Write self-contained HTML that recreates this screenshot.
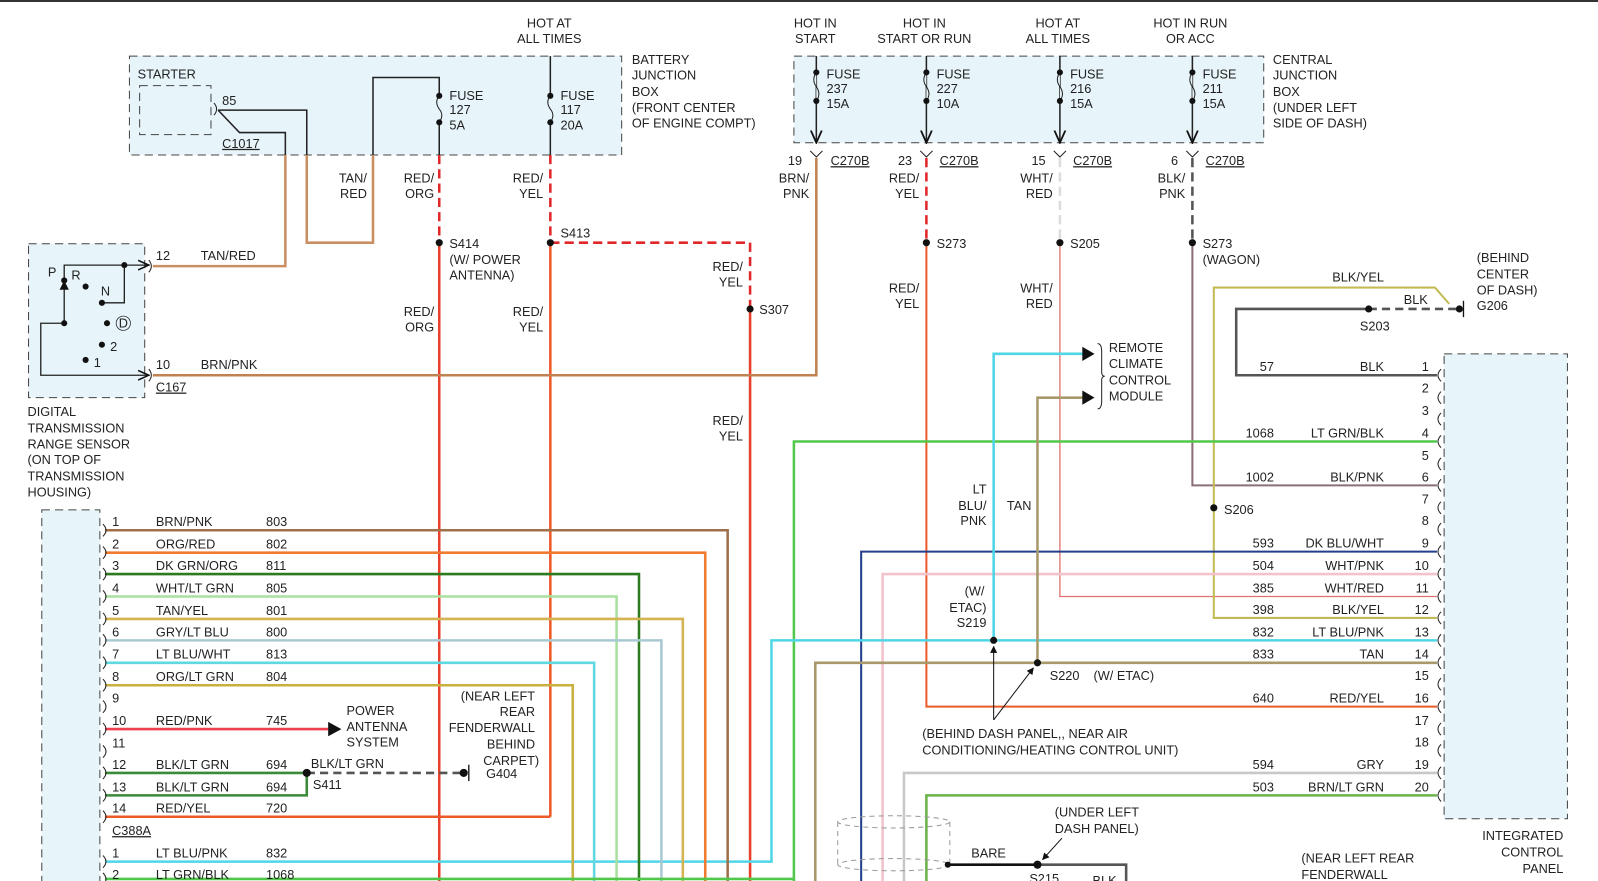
<!DOCTYPE html>
<html><head><meta charset="utf-8"><style>
html,body{margin:0;padding:0;background:#fff;}
svg{display:block;}
text{font-family:"Liberation Sans",Arial,sans-serif;font-size:12.5px;fill:#222;}
.r{text-anchor:end}.m{text-anchor:middle}
.u{text-decoration:underline}
</style></head><body>
<svg width="1598" height="881" viewBox="0 0 1568 864" preserveAspectRatio="none" xmlns="http://www.w3.org/2000/svg">
<defs>
<marker id="ah" viewBox="0 0 10 10" refX="9" refY="5" markerWidth="7" markerHeight="7" orient="auto"><path d="M0,0L10,5L0,10z" fill="#111"/></marker>
<marker id="av" viewBox="0 0 10 10" refX="9" refY="5" markerWidth="9" markerHeight="9" orient="auto"><path d="M0,1L9,5L0,9" fill="none" stroke="#111" stroke-width="1.3"/></marker>
</defs>
<line x1="0" y1="1" x2="1568" y2="1" stroke="#333" stroke-width="2"/>

<rect x="127" y="55" width="483" height="97" fill="#e7f4fa" stroke="#444" stroke-dasharray="8,5"/>
<rect x="137" y="84" width="70" height="48" fill="#e7f4fa" stroke="#444" stroke-dasharray="8,5"/>
<rect x="779" y="55" width="461" height="85" fill="#e7f4fa" stroke="#444" stroke-dasharray="8,5"/>
<rect x="28" y="239" width="114" height="151" fill="#e7f4fa" stroke="#444" stroke-dasharray="8,5"/>
<rect x="41" y="500" width="57" height="380" fill="#e7f4fa" stroke="#444" stroke-dasharray="8,5"/>
<rect x="1417" y="347" width="121" height="456" fill="#e7f4fa" stroke="#444" stroke-dasharray="8,5"/>

<text x="135" y="77">STARTER</text>
<text x="218" y="103">85</text>
<text x="218" y="145" class="u">C1017</text>
<text x="539" y="27" class="m">HOT AT</text><text x="539" y="42" class="m">ALL TIMES</text>
<text x="620" y="63">BATTERY</text><text x="620" y="78">JUNCTION</text><text x="620" y="94">BOX</text><text x="620" y="110">(FRONT CENTER</text><text x="620" y="125">OF ENGINE COMPT)</text>
<path d="M210,101 q5,6 0,12" fill="none" stroke="#222"/>
<polyline points="214,108 301,108 301,152" fill="none" stroke="#222" stroke-width="1.5"/>
<polyline points="301,152 301,238 366,238 366,152" fill="none" stroke="#c98f62" stroke-width="2.5"/>
<polyline points="366,152 366,76 431,76 431,94" fill="none" stroke="#222" stroke-width="1.5"/>
<polyline points="214,108 235,130 280,130 280,152" fill="none" stroke="#222" stroke-width="1.5"/>
<polyline points="280,152 280,261 150,261" fill="none" stroke="#c98f62" stroke-width="2.5"/>
<text x="360" y="179" class="r">TAN/</text><text x="360" y="194" class="r">RED</text>
<line x1="431" y1="120" x2="431" y2="152" stroke="#222" stroke-width="1.5"/>
<path d="M431,94 q-5,6 0,13 q5,6 0,13" fill="none" stroke="#222"/>
<circle cx="431" cy="94" r="3" fill="#111"/><circle cx="431" cy="120" r="3" fill="#111"/>
<text x="441" y="98">FUSE</text><text x="441" y="112">127</text><text x="441" y="127">5A</text>
<line x1="431" y1="152" x2="431" y2="238" stroke="#e0282a" stroke-width="2.5" stroke-dasharray="9,5"/>
<line x1="431" y1="238" x2="431" y2="864" stroke="#e8402a" stroke-width="2.5"/>
<circle cx="431" cy="238" r="3.5" fill="#111"/>
<text x="426" y="179" class="r">RED/</text><text x="426" y="194" class="r">ORG</text>
<text x="441" y="243">S414</text><text x="441" y="259">(W/ POWER</text><text x="441" y="274">ANTENNA)</text>
<text x="426" y="310" class="r">RED/</text><text x="426" y="325" class="r">ORG</text>
<line x1="540" y1="55" x2="540" y2="94" stroke="#222" stroke-width="1.5"/>
<line x1="540" y1="120" x2="540" y2="152" stroke="#222" stroke-width="1.5"/>
<path d="M540,94 q-5,6 0,13 q5,6 0,13" fill="none" stroke="#222"/>
<circle cx="540" cy="94" r="3" fill="#111"/><circle cx="540" cy="120" r="3" fill="#111"/>
<text x="550" y="98">FUSE</text><text x="550" y="112">117</text><text x="550" y="127">20A</text>
<line x1="540" y1="152" x2="540" y2="238" stroke="#e0282a" stroke-width="2.5" stroke-dasharray="9,5"/>
<polyline points="540,238 736,238 736,303" fill="none" stroke="#e0282a" stroke-width="2.5" stroke-dasharray="9,5"/>
<line x1="540" y1="238" x2="540" y2="801" stroke="#ec5a28" stroke-width="2.5"/>
<line x1="736" y1="303" x2="736" y2="864" stroke="#e8402a" stroke-width="2.5"/>
<circle cx="540" cy="238" r="3.5" fill="#111"/><circle cx="736" cy="303" r="3.5" fill="#111"/>
<text x="533" y="179" class="r">RED/</text><text x="533" y="194" class="r">YEL</text>
<text x="550" y="233">S413</text>
<text x="533" y="310" class="r">RED/</text><text x="533" y="325" class="r">YEL</text>
<text x="729" y="266" class="r">RED/</text><text x="729" y="281" class="r">YEL</text>
<text x="745" y="308">S307</text>
<text x="729" y="417" class="r">RED/</text><text x="729" y="432" class="r">YEL</text>

<path d="M146,255 q5,6 0,12 M146,362 q5,6 0,12" fill="none" stroke="#222"/>
<polyline points="63,275 63,260 146,260" fill="none" stroke="#222" stroke-width="1.3" marker-end="url(#av)"/>
<line x1="63" y1="317" x2="63" y2="276" stroke="#222" stroke-width="1.3" marker-end="url(#ah)"/>
<polyline points="122,260 122,297 100,297" fill="none" stroke="#222" stroke-width="1.3"/>
<polyline points="63,317 40,317 40,368 146,368" fill="none" stroke="#222" stroke-width="1.3" marker-end="url(#av)"/>
<circle cx="122" cy="260" r="3" fill="#111"/><circle cx="63" cy="275" r="3" fill="#111"/><circle cx="84" cy="281" r="3" fill="#111"/>
<circle cx="100" cy="297" r="3" fill="#111"/><circle cx="63" cy="317" r="3" fill="#111"/><circle cx="105" cy="317" r="3" fill="#111"/>
<circle cx="100" cy="338" r="3" fill="#111"/><circle cx="84" cy="353" r="3" fill="#111"/>
<text x="47" y="271">P</text><text x="70" y="274">R</text><text x="99" y="290">N</text>
<circle cx="121" cy="317" r="7" fill="none" stroke="#333" stroke-width="0.8"/><text x="121" y="321" class="m">D</text>
<text x="108" y="344">2</text><text x="92" y="360">1</text>
<text x="153" y="255">12</text><text x="197" y="255">TAN/RED</text>
<text x="153" y="362">10</text><text x="197" y="362">BRN/PNK</text>
<text x="153" y="384" class="u">C167</text>
<polyline points="150,368 801,368 801,155" fill="none" stroke="#c08250" stroke-width="2.5"/>
<text x="27" y="408">DIGITAL</text><text x="27" y="424">TRANSMISSION</text><text x="27" y="440">RANGE SENSOR</text><text x="27" y="455">(ON TOP OF</text><text x="27" y="471">TRANSMISSION</text><text x="27" y="487">HOUSING)</text>

<text x="800" y="27" class="m">HOT IN</text><text x="800" y="42" class="m">START</text>
<text x="907" y="27" class="m">HOT IN</text><text x="907" y="42" class="m">START OR RUN</text>
<text x="1038" y="27" class="m">HOT AT</text><text x="1038" y="42" class="m">ALL TIMES</text>
<text x="1168" y="27" class="m">HOT IN RUN</text><text x="1168" y="42" class="m">OR ACC</text>
<text x="1249" y="63">CENTRAL</text><text x="1249" y="78">JUNCTION</text><text x="1249" y="94">BOX</text><text x="1249" y="110">(UNDER LEFT</text><text x="1249" y="125">SIDE OF DASH)</text>
<g stroke="#222" stroke-width="1.5" fill="none">
<line x1="801" y1="55" x2="801" y2="140" marker-end="url(#av)"/>
<line x1="909" y1="55" x2="909" y2="140" marker-end="url(#av)"/>
<line x1="1040" y1="55" x2="1040" y2="140" marker-end="url(#av)"/>
<line x1="1170" y1="55" x2="1170" y2="140" marker-end="url(#av)"/>
</g>
<g fill="#e7f4fa" stroke="#222" stroke-width="1">
<path d="M801,71 q-5,7 0,14 q5,7 0,14"/><path d="M909,71 q-5,7 0,14 q5,7 0,14"/><path d="M1040,71 q-5,7 0,14 q5,7 0,14"/><path d="M1170,71 q-5,7 0,14 q5,7 0,14"/>
</g>
<g fill="#111"><circle cx="801" cy="71" r="3"/><circle cx="801" cy="99" r="3"/><circle cx="909" cy="71" r="3"/><circle cx="909" cy="99" r="3"/><circle cx="1040" cy="71" r="3"/><circle cx="1040" cy="99" r="3"/><circle cx="1170" cy="71" r="3"/><circle cx="1170" cy="99" r="3"/></g>
<text x="811" y="77">FUSE</text><text x="811" y="91">237</text><text x="811" y="106">15A</text>
<text x="919" y="77">FUSE</text><text x="919" y="91">227</text><text x="919" y="106">10A</text>
<text x="1050" y="77">FUSE</text><text x="1050" y="91">216</text><text x="1050" y="106">15A</text>
<text x="1180" y="77">FUSE</text><text x="1180" y="91">211</text><text x="1180" y="106">15A</text>
<path d="M795,148 l6,6 l6,-6 M903,148 l6,6 l6,-6 M1034,148 l6,6 l6,-6 M1164,148 l6,6 l6,-6" fill="none" stroke="#222"/>
<text x="787" y="162" class="r">19</text><text x="815" y="162" class="u">C270B</text>
<text x="895" y="162" class="r">23</text><text x="922" y="162" class="u">C270B</text>
<text x="1026" y="162" class="r">15</text><text x="1053" y="162" class="u">C270B</text>
<text x="1156" y="162" class="r">6</text><text x="1183" y="162" class="u">C270B</text>
<text x="794" y="179" class="r">BRN/</text><text x="794" y="194" class="r">PNK</text>
<line x1="909" y1="155" x2="909" y2="238" stroke="#e0282a" stroke-width="2.5" stroke-dasharray="9,5"/>
<line x1="1040" y1="155" x2="1040" y2="238" stroke="#dcdcdc" stroke-width="2.5" stroke-dasharray="9,5"/>
<line x1="1170" y1="155" x2="1170" y2="238" stroke="#555" stroke-width="2.5" stroke-dasharray="9,5"/>
<text x="902" y="179" class="r">RED/</text><text x="902" y="194" class="r">YEL</text>
<text x="1033" y="179" class="r">WHT/</text><text x="1033" y="194" class="r">RED</text>
<text x="1163" y="179" class="r">BLK/</text><text x="1163" y="194" class="r">PNK</text>
<text x="919" y="243">S273</text><text x="1050" y="243">S205</text><text x="1180" y="243">S273</text><text x="1180" y="259">(WAGON)</text>
<text x="902" y="287" class="r">RED/</text><text x="902" y="302" class="r">YEL</text>
<text x="1033" y="287" class="r">WHT/</text><text x="1033" y="302" class="r">RED</text>

<polyline points="909,238 909,693 1410,693" fill="none" stroke="#ec5a28" stroke-width="2"/>
<polyline points="1040,238 1040,585 1410,585" fill="none" stroke="#e07070" stroke-width="1.3"/>
<polyline points="1170,238 1170,476 1410,476" fill="none" stroke="#8a6f7a" stroke-width="2"/>
<circle cx="909" cy="238" r="3.5" fill="#111"/><circle cx="1040" cy="238" r="3.5" fill="#111"/><circle cx="1170" cy="238" r="3.5" fill="#111"/>
<polyline points="1410,368 1213,368 1213,303 1343,303" fill="none" stroke="#555" stroke-width="2.5"/>
<line x1="1343" y1="303" x2="1432" y2="303" stroke="#555" stroke-width="2.5" stroke-dasharray="8,5"/>
<circle cx="1343" cy="303" r="3.5" fill="#111"/><circle cx="1432" cy="303" r="3.5" fill="#111"/>
<line x1="1436" y1="295" x2="1436" y2="311" stroke="#111" stroke-width="1.3"/>
<polyline points="1410,606 1191,606 1191,282 1408,282 1422,298" fill="none" stroke="#c2bb55" stroke-width="2"/>
<circle cx="1191" cy="498" r="3.5" fill="#111"/>
<text x="1201" y="504">S206</text>
<text x="1358" y="276" class="r">BLK/YEL</text><text x="1401" y="298" class="r">BLK</text><text x="1349" y="324" class="m">S203</text>
<text x="1449" y="257">(BEHIND</text><text x="1449" y="273">CENTER</text><text x="1449" y="289">OF DASH)</text><text x="1449" y="304">G206</text>
<polyline points="1410,433 779,433 779,864" fill="none" stroke="#52c84a" stroke-width="2.5"/>
<polyline points="1410,541 845,541 845,864" fill="none" stroke="#233f8c" stroke-width="2"/>
<polyline points="1410,563 866,563 866,864" fill="none" stroke="#f3c3cb" stroke-width="2.5"/>
<polyline points="1410,628 757,628 757,845 103,845" fill="none" stroke="#4fd6e6" stroke-width="2.5"/>
<polyline points="1410,650 800,650 800,864" fill="none" stroke="#a8986a" stroke-width="2.5"/>
<polyline points="1410,758 887,758 887,864" fill="none" stroke="#c8c8c8" stroke-width="2.5"/>
<polyline points="1410,780 909,780 909,864" fill="none" stroke="#6cb24a" stroke-width="2.5"/>
<polyline points="975,628 975,347 1064,347" fill="none" stroke="#4fd6e6" stroke-width="2.5"/>
<polyline points="1018,650 1018,390 1064,390" fill="none" stroke="#a8986a" stroke-width="2.5"/>
<path d="M1062,340 L1074,347 L1062,354z M1062,383 L1074,390 L1062,397z" fill="#111"/>
<path d="M1077,337 q4,0 4,8 v20 q0,4 3,4 q-3,0 -3,4 v20 q0,8 -4,8" fill="none" stroke="#222"/>
<text x="1088" y="345">REMOTE</text><text x="1088" y="361">CLIMATE</text><text x="1088" y="377">CONTROL</text><text x="1088" y="393">MODULE</text>
<circle cx="975" cy="628" r="3.5" fill="#111"/><circle cx="1018" cy="650" r="3.5" fill="#111"/>
<text x="968" y="484" class="r">LT</text><text x="968" y="500" class="r">BLU/</text><text x="968" y="515" class="r">PNK</text><text x="988" y="500">TAN</text>
<text x="966" y="584" class="r">(W/</text><text x="968" y="600" class="r">ETAC)</text><text x="968" y="615" class="r">S219</text>
<text x="1030" y="667">S220</text><text x="1073" y="667">(W/ ETAC)</text>
<line x1="975" y1="706" x2="975" y2="634" stroke="#111" marker-end="url(#ah)"/>
<line x1="975" y1="706" x2="1014" y2="655" stroke="#111" marker-end="url(#ah)"/>
<text x="905" y="724">(BEHIND DASH PANEL,, NEAR AIR</text><text x="905" y="740">CONDITIONING/HEATING CONTROL UNIT)</text>
<g fill="none" stroke="#222">
<path d="M1414,362 q-6,6 0,12 M1414,384 q-6,6 0,12 M1414,405 q-6,6 0,12 M1414,427 q-6,6 0,12 M1414,449 q-6,6 0,12 M1414,470 q-6,6 0,12 M1414,492 q-6,6 0,12 M1414,513 q-6,6 0,12 M1414,535 q-6,6 0,12 M1414,557 q-6,6 0,12 M1414,579 q-6,6 0,12 M1414,600 q-6,6 0,12 M1414,622 q-6,6 0,12 M1414,644 q-6,6 0,12 M1414,665 q-6,6 0,12 M1414,687 q-6,6 0,12 M1414,709 q-6,6 0,12 M1414,730 q-6,6 0,12 M1414,752 q-6,6 0,12 M1414,774 q-6,6 0,12"/>
</g>
<g>
<text x="1402" y="364" class="r">1</text><text x="1402" y="385" class="r">2</text><text x="1402" y="407" class="r">3</text><text x="1402" y="429" class="r">4</text><text x="1402" y="451" class="r">5</text><text x="1402" y="472" class="r">6</text><text x="1402" y="494" class="r">7</text><text x="1402" y="515" class="r">8</text><text x="1402" y="537" class="r">9</text><text x="1402" y="559" class="r">10</text><text x="1402" y="581" class="r">11</text><text x="1402" y="602" class="r">12</text><text x="1402" y="624" class="r">13</text><text x="1402" y="646" class="r">14</text><text x="1402" y="667" class="r">15</text><text x="1402" y="689" class="r">16</text><text x="1402" y="711" class="r">17</text><text x="1402" y="732" class="r">18</text><text x="1402" y="754" class="r">19</text><text x="1402" y="776" class="r">20</text>
<text x="1250" y="364" class="r">57</text><text x="1358" y="364" class="r">BLK</text>
<text x="1250" y="429" class="r">1068</text><text x="1358" y="429" class="r">LT GRN/BLK</text>
<text x="1250" y="472" class="r">1002</text><text x="1358" y="472" class="r">BLK/PNK</text>
<text x="1250" y="537" class="r">593</text><text x="1358" y="537" class="r">DK BLU/WHT</text>
<text x="1250" y="559" class="r">504</text><text x="1358" y="559" class="r">WHT/PNK</text>
<text x="1250" y="581" class="r">385</text><text x="1358" y="581" class="r">WHT/RED</text>
<text x="1250" y="602" class="r">398</text><text x="1358" y="602" class="r">BLK/YEL</text>
<text x="1250" y="624" class="r">832</text><text x="1358" y="624" class="r">LT BLU/PNK</text>
<text x="1250" y="646" class="r">833</text><text x="1358" y="646" class="r">TAN</text>
<text x="1250" y="689" class="r">640</text><text x="1358" y="689" class="r">RED/YEL</text>
<text x="1250" y="754" class="r">594</text><text x="1358" y="754" class="r">GRY</text>
<text x="1250" y="776" class="r">503</text><text x="1358" y="776" class="r">BRN/LT GRN</text>
</g>
<text x="1534" y="824" class="r">INTEGRATED</text><text x="1534" y="840" class="r">CONTROL</text><text x="1534" y="856" class="r">PANEL</text>
<g fill="none" stroke="#999" stroke-dasharray="5,4">
<ellipse cx="877" cy="806" rx="55" ry="6"/><ellipse cx="877" cy="848" rx="55" ry="6"/>
<line x1="822" y1="806" x2="822" y2="848"/><line x1="932" y1="806" x2="932" y2="848"/>
</g>
<line x1="930" y1="848" x2="1018" y2="848" stroke="#111" stroke-width="2.5"/>
<polyline points="1018,848 1105,848 1105,864" fill="none" stroke="#555" stroke-width="2.5"/>
<circle cx="930" cy="848" r="3" fill="#111"/><circle cx="1018" cy="848" r="4" fill="#111"/>
<text x="953" y="841">BARE</text><text x="1010" y="866">S215</text><text x="1072" y="868">BLK</text>
<text x="1035" y="801">(UNDER LEFT</text><text x="1035" y="817">DASH PANEL)</text>
<line x1="1042" y1="822" x2="1023" y2="843" stroke="#111" marker-end="url(#ah)"/>
<text x="1277" y="846">(NEAR LEFT REAR</text><text x="1277" y="862">FENDERWALL</text>

<polyline points="103,520 714,520 714,864" fill="none" stroke="#a0704a" stroke-width="2.5"/>
<polyline points="103,542 692,542 692,864" fill="none" stroke="#f07a30" stroke-width="2.5"/>
<polyline points="103,563 627,563 627,864" fill="none" stroke="#2e7a1e" stroke-width="2.5"/>
<polyline points="103,585 605,585 605,864" fill="none" stroke="#a8e0a0" stroke-width="2.5"/>
<polyline points="103,607 670,607 670,864" fill="none" stroke="#d4b452" stroke-width="2.5"/>
<polyline points="103,628 649,628 649,864" fill="none" stroke="#a9c9d2" stroke-width="2.5"/>
<polyline points="103,650 583,650 583,864" fill="none" stroke="#5fd8e2" stroke-width="2.5"/>
<polyline points="103,672 562,672 562,864" fill="none" stroke="#c8b040" stroke-width="2.5"/>
<line x1="103" y1="715" x2="322" y2="715" stroke="#f04050" stroke-width="2.5"/>
<path d="M322,708 L335,715 L322,722z" fill="#111"/>
<polyline points="103,758 301,758" fill="none" stroke="#3a8a3a" stroke-width="2.5"/>
<polyline points="103,780 301,780 301,758" fill="none" stroke="#3a8a3a" stroke-width="2.5"/>
<line x1="301" y1="758" x2="455" y2="758" stroke="#555" stroke-width="2.5" stroke-dasharray="8,5"/>
<circle cx="301" cy="758" r="4" fill="#111"/><circle cx="455" cy="758" r="4" fill="#111"/>
<line x1="460" y1="750" x2="460" y2="766" stroke="#111" stroke-width="1.3"/>
<polyline points="103,801 540,801" fill="none" stroke="#ec5a28" stroke-width="2.5"/>
<polyline points="103,862 779,862" fill="none" stroke="#52c84a" stroke-width="2.5"/>
<g fill="none" stroke="#222">
<path d="M101,514 q6,6 0,12 M101,536 q6,6 0,12 M101,557 q6,6 0,12 M101,579 q6,6 0,12 M101,601 q6,6 0,12 M101,622 q6,6 0,12 M101,644 q6,6 0,12 M101,666 q6,6 0,12 M101,687 q6,6 0,12 M101,709 q6,6 0,12 M101,731 q6,6 0,12 M101,752 q6,6 0,12 M101,774 q6,6 0,12 M101,795 q6,6 0,12 M101,839 q6,6 0,12 M101,856 q6,6 0,12"/>
</g>
<text x="110" y="516">1</text><text x="153" y="516">BRN/PNK</text><text x="261" y="516">803</text>
<text x="110" y="538">2</text><text x="153" y="538">ORG/RED</text><text x="261" y="538">802</text>
<text x="110" y="559">3</text><text x="153" y="559">DK GRN/ORG</text><text x="261" y="559">811</text>
<text x="110" y="581">4</text><text x="153" y="581">WHT/LT GRN</text><text x="261" y="581">805</text>
<text x="110" y="603">5</text><text x="153" y="603">TAN/YEL</text><text x="261" y="603">801</text>
<text x="110" y="624">6</text><text x="153" y="624">GRY/LT BLU</text><text x="261" y="624">800</text>
<text x="110" y="646">7</text><text x="153" y="646">LT BLU/WHT</text><text x="261" y="646">813</text>
<text x="110" y="668">8</text><text x="153" y="668">ORG/LT GRN</text><text x="261" y="668">804</text>
<text x="110" y="689">9</text>
<text x="110" y="711">10</text><text x="153" y="711">RED/PNK</text><text x="261" y="711">745</text>
<text x="110" y="733">11</text>
<text x="110" y="754">12</text><text x="153" y="754">BLK/LT GRN</text><text x="261" y="754">694</text>
<text x="110" y="776">13</text><text x="153" y="776">BLK/LT GRN</text><text x="261" y="776">694</text>
<text x="110" y="797">14</text><text x="153" y="797">RED/YEL</text><text x="261" y="797">720</text>
<text x="110" y="819" class="u">C388A</text>
<text x="110" y="841">1</text><text x="153" y="841">LT BLU/PNK</text><text x="261" y="841">832</text>
<text x="110" y="862">2</text><text x="153" y="862">LT GRN/BLK</text><text x="261" y="862">1068</text>
<text x="340" y="701">POWER</text><text x="340" y="717">ANTENNA</text><text x="340" y="732">SYSTEM</text>
<text x="305" y="753">BLK/LT GRN</text><text x="307" y="774">S411</text><text x="477" y="763">G404</text>
<text x="525" y="687" class="r">(NEAR LEFT</text><text x="525" y="702" class="r">REAR</text><text x="525" y="718" class="r">FENDERWALL</text><text x="525" y="734" class="r">BEHIND</text><text x="529" y="750" class="r">CARPET)</text>
</svg>
</body></html>
